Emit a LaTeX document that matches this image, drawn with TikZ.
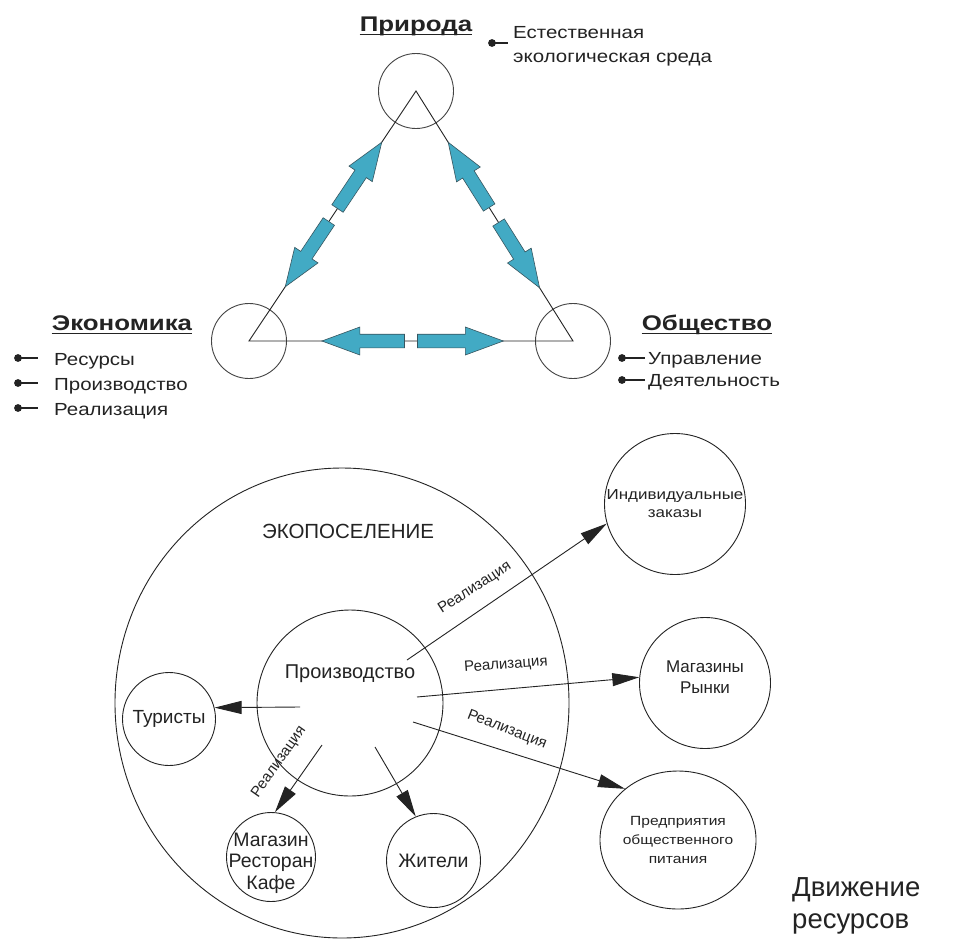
\documentclass[tikz,border=0pt]{standalone}
\usepackage{fontspec}
\setmainfont{Liberation Sans}
\newfontfamily\tfont{Liberation Sans}[FakeStretch=1.17]
\newfontfamily\hfont{Liberation Sans}[FakeStretch=1.22]
\usetikzlibrary{calc,arrows.meta,shapes.geometric}
\newcommand\fsz[2]{\fontsize{#1}{#2}\selectfont}
\definecolor{ink}{RGB}{35,35,35}
\definecolor{arrowfill}{RGB}{66,170,196}
\definecolor{arrowline}{RGB}{55,85,95}
\newcommand\blockarrow[4]{%
  \coordinate (ba-t) at ($(#1)!#3!(#2)$);
  \coordinate (ba-h) at ($(#1)!#4!(#2)$);
  \coordinate (ba-n) at ($(ba-h)!38pt!(ba-t)$);
  \draw[bluearrow] ($(ba-t)!6.8pt!90:(ba-h)$) -- ($(ba-n)!6.8pt!90:(ba-h)$)
    -- ($(ba-n)!14pt!90:(ba-h)$) -- (ba-h) -- ($(ba-n)!14pt!-90:(ba-h)$)
    -- ($(ba-n)!6.8pt!-90:(ba-h)$) -- ($(ba-t)!6.8pt!-90:(ba-h)$) -- cycle;
}
\begin{document}
\begin{tikzpicture}[x=1pt,y=-1pt,
  txt/.style={text=ink, inner sep=0pt},
  head/.style={txt, font=\hfont\bfseries\fsz{21.2}{25}},
  btxt/.style={txt, font=\tfont\fsz{17.5}{22}},
  uline/.style={draw=ink, line width=1.4pt},
  bulletline/.style={draw=ink, line width=1.2pt},
  tcirc/.style={draw=ink!85, line width=0.9pt, circle, minimum size=75pt, inner sep=0pt},
  tri/.style={draw=ink, line width=0.9pt},
  bluearrow/.style={fill=arrowfill, draw=arrowline, line width=0.6pt, line join=miter},
  circ/.style={draw=ink, line width=0.9pt, circle, inner sep=0pt, text=ink},
  conn/.style={draw=ink, line width=0.9pt, -{Triangle[length=27pt,width=13pt]}},
  lab/.style={txt, font=\fsz{15}{18}}
]
\fill[white] (0,0) rectangle (971,945);
\useasboundingbox (0,0) rectangle (971,945);

% ---------- top: triangle ----------
\coordinate (A) at (416,91);
\coordinate (B) at (249,341);
\coordinate (C) at (573,341);
\node[tcirc] (prir) at (A) {};
\node[tcirc] (econ) at (B) {};
\node[tcirc] (obsh) at (C) {};
\draw[tri] (A) -- (B) -- (C) -- cycle;
\blockarrow{A}{B}{0.47}{0.205}
\blockarrow{A}{B}{0.522}{0.783}
\blockarrow{A}{C}{0.466}{0.205}
\blockarrow{A}{C}{0.526}{0.787}
\blockarrow{B}{C}{0.48}{0.225}
\blockarrow{B}{C}{0.52}{0.785}

% headings
\node[head, anchor=base] (hprir) at (416,31) {Природа};
\draw[uline] ($(hprir.base west)+(0,3.5)$) -- ($(hprir.base east)+(0,3.5)$);
\node[head, anchor=base] (hecon) at (122,330) {Экономика};
\draw[uline] ($(hecon.base west)+(0,3.5)$) -- ($(hecon.base east)+(0,3.5)$);
\node[head, anchor=base] (hobsh) at (707,330) {Общество};
\draw[uline] ($(hobsh.base west)+(0,3.5)$) -- ($(hobsh.base east)+(0,3.5)$);

% Priroda bullet
\fill[ink] (492,43) circle (3.9pt);
\draw[bulletline] (492,43) -- (508,43);
\node[btxt, anchor=base west] (nat1) at (513,38) {Естественная};
\node[btxt, anchor=base west] (nat2) at (513,62) {экологическая среда};

% Economics bullets
\foreach \yy/\bl/\nm/\tx in {358/365/e1/Ресурсы, 383/390/e2/Производство, 408/415/e3/Реализация}{
  \fill[ink] (18,\yy) circle (3.9pt);
  \draw[bulletline] (18,\yy) -- (38,\yy);
  \node[btxt, anchor=base west] (\nm) at (54,\bl) {\tx};
}
% Society bullets
\foreach \yy/\bl/\nm/\tx in {358/364/o1/Управление, 380/386/o2/Деятельность}{
  \fill[ink] (622,\yy) circle (3.9pt);
  \draw[bulletline] (622,\yy) -- (645,\yy);
  \node[btxt, anchor=base west] (\nm) at (648,\bl) {\tx};
}

% ---------- bottom ----------
\node[draw=ink, line width=0.9pt, ellipse, minimum width=454pt, minimum height=470pt, inner sep=0pt] (eco) at (342,703) {};
\node[txt, font=\fsz{20.5}{24}, anchor=base] (ecot) at (348,538) {ЭКОПОСЕЛЕНИЕ};
\node[circ, minimum size=186pt] (prod) at (350,703) {};
\node[txt, font=\fsz{20}{24}, anchor=base] (prodt) at (350,678) {Производство};

\node[circ, minimum size=93pt, font=\fsz{19}{22}] (tur) at (169,719) {Туристы};
\node[circ, minimum size=89pt,
  label={[txt, font=\fsz{19.5}{21.5}, align=center, yshift=-6pt]center:Магазин\\Ресторан\\Кафе}] (mag) at (271,857) {};
\node[circ, minimum size=94pt, font=\fsz{19.5}{22}] (zhit) at (433.5,860.5) {Жители};
\node[circ, minimum size=141pt, align=center, font=\tfont\fsz{14.5}{18}] (ind) at (675,504) {Индивидуальные\\заказы};
\node[circ, minimum size=131pt,
  label={[txt, font=\fsz{17}{21}, align=center, yshift=5.5pt]center:Магазины\\Рынки}] (mr) at (705,683) {};
\node[draw=ink, line width=0.9pt, ellipse, minimum width=130pt, minimum height=138pt, inner sep=0pt,
  align=center, text=ink, font=\tfont\fsz{13.3}{19}] (pred) at (678,840) {Предприятия\\общественного\\питания};

% connectors
\coordinate (s1) at (407,660);
\coordinate (s2) at (417,697);
\coordinate (s3) at (413,722);
\coordinate (s4) at (300,707);
\coordinate (s5) at (322,745);
\coordinate (s6) at (375,747);
\draw[conn] (s1) -- (ind.196);
\draw[conn] (s2) -- (mr.175);
\draw[conn] (s3) -- (pred.136);
\draw[conn] (s4) -- (tur.14);
\draw[conn] (s5) -- (mag.85);
\draw[conn] (s6) -- (zhit.112);

\node[lab, rotate=33] (l1) at (475,588) {Реализация};
\node[lab, rotate=4.5] (l2) at (506,665) {Реализация};
\node[lab, rotate=-21] (l3) at (507,730) {Реализация};
\node[lab, rotate=55] (l4) at (279,762) {Реализация};

\node[txt, font=\fsz{27.5}{32}, align=left, anchor=west] (mv) at (792,906) {Движение\\ресурсов};
\end{tikzpicture}
\end{document}
